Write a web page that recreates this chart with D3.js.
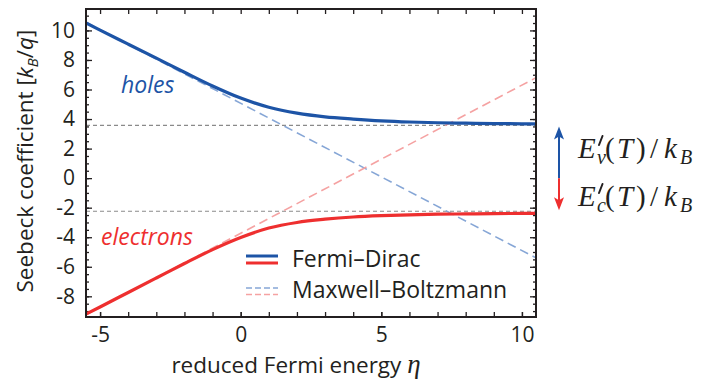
<!DOCTYPE html>
<html>
<head>
<meta charset="utf-8">
<script src="https://cdn.jsdelivr.net/npm/d3@7"></script>
<style>
  body { margin: 0; background: #fff; }
  svg { display: block; }
</style>
</head>
<body>
<div id="chart"></div>
<script>
// ---------------- data ----------------
const eta = [-5.5, -5, -4, -3, -2, -1, 0, 1, 2, 3, 4, 5, 6, 7, 8, 9, 10, 10.5];
const holesFD = [10.5, 10.02, 9.07, 8.12, 7.17, 6.24, 5.42, 4.8, 4.4, 4.15, 4.0, 3.88, 3.8, 3.75, 3.72, 3.69, 3.68, 3.67];
const electronsFD = [-9.2, -8.72, -7.74, -6.76, -5.78, -4.84, -4.02, -3.38, -3.0, -2.78, -2.63, -2.54, -2.48, -2.44, -2.42, -2.4, -2.39, -2.39];
const etaMB = [-5.5, 10.5];
const holesMB = [10.55, -5.4];
const electronsMB = [-9.25, 6.8];
const EvPrime = 3.57;   // asymptote for holes
const EcPrime = -2.24;  // asymptote for electrons
const xTicks = [-5, 0, 5, 10];
const yTicks = [-8, -6, -4, -2, 0, 2, 4, 6, 8, 10];

// ---------------- layout ----------------
const W = 718, H = 385;
const pLeft = 86, pRight = 536, pTop = 9, pBottom = 317;
const blue = '#1d54a6';
const red = '#ee2f2f';
const lightBlue = '#86a6d6';
const pink = '#f5a2a2';
const ink = '#231f20';
const sans = "'Open Sans', sans-serif";
const serif = "'Liberation Serif', serif";

const svg = d3.select('#chart').append('svg')
  .attr('width', W)
  .attr('height', H);

const x = d3.scaleLinear().domain([-5.5, 10.5]).range([pLeft, pRight]);
const y = d3.scaleLinear().domain([-9.4, 11.45]).range([pBottom, pTop]);

svg.append('defs').append('clipPath').attr('id', 'plotClip')
  .append('rect')
  .attr('x', pLeft).attr('y', pTop)
  .attr('width', pRight - pLeft).attr('height', pBottom - pTop);

// ---------------- axes (ticks pointing inward, on all four sides) ----------------
const fmt = d => String(d);
function styleAxis(g) {
  g.select('.domain').remove();
  g.selectAll('line').attr('stroke', ink).attr('stroke-width', 1.3);
  g.selectAll('text').attr('fill', ink).attr('font-family', sans).attr('font-size', 21);
}
const xMinor = d3.range(-5, 11, 1);
const yMinor = d3.range(-9, 11.5, 0.5);

svg.append('g').attr('transform', `translate(0,${pBottom})`)
  .call(d3.axisBottom(x).tickValues(xMinor).tickSize(-5).tickFormat(''))
  .call(styleAxis);
svg.append('g').attr('transform', `translate(0,${pBottom})`)
  .call(d3.axisBottom(x).tickValues(xTicks).tickSize(-5).tickPadding(10).tickFormat(fmt))
  .call(styleAxis);
svg.append('g').attr('transform', `translate(0,${pTop})`)
  .call(d3.axisTop(x).tickValues(xMinor).tickSize(-5).tickFormat(''))
  .call(styleAxis);

svg.append('g').attr('transform', `translate(${pLeft},0)`)
  .call(d3.axisLeft(y).tickValues(yMinor).tickSize(-3).tickFormat(''))
  .call(styleAxis);
svg.append('g').attr('transform', `translate(${pLeft},0)`)
  .call(d3.axisLeft(y).tickValues(yTicks).tickSize(-6).tickPadding(11).tickFormat(fmt))
  .call(styleAxis);
svg.append('g').attr('transform', `translate(${pRight},0)`)
  .call(d3.axisRight(y).tickValues(yMinor).tickSize(-3).tickFormat(''))
  .call(styleAxis);
svg.append('g').attr('transform', `translate(${pRight},0)`)
  .call(d3.axisRight(y).tickValues(yTicks).tickSize(-6).tickFormat(''))
  .call(styleAxis);

// ---------------- plot content ----------------
const plot = svg.append('g').attr('clip-path', 'url(#plotClip)');

// asymptotes
[EvPrime, EcPrime].forEach(v => {
  plot.append('line')
    .attr('x1', pLeft).attr('x2', pRight)
    .attr('y1', y(v)).attr('y2', y(v))
    .attr('stroke', '#8a8a8a')
    .attr('stroke-width', 1.1)
    .attr('stroke-dasharray', '4 3');
});

const line = d3.line()
  .x(d => x(d[0]))
  .y(d => y(d[1]))
  .curve(d3.curveMonotoneX);

// Maxwell-Boltzmann (dashed)
plot.append('path')
  .attr('d', line(d3.zip(etaMB, holesMB)))
  .attr('fill', 'none').attr('stroke', lightBlue)
  .attr('stroke-width', 1.6).attr('stroke-dasharray', '9 5');
plot.append('path')
  .attr('d', line(d3.zip(etaMB, electronsMB)))
  .attr('fill', 'none').attr('stroke', pink)
  .attr('stroke-width', 1.6).attr('stroke-dasharray', '9 5');

// Fermi-Dirac (solid)
plot.append('path')
  .attr('d', line(d3.zip(eta, holesFD)))
  .attr('fill', 'none').attr('stroke', blue).attr('stroke-width', 3.2);
plot.append('path')
  .attr('d', line(d3.zip(eta, electronsFD)))
  .attr('fill', 'none').attr('stroke', red).attr('stroke-width', 3.2);

// frame
svg.append('rect')
  .attr('x', pLeft).attr('y', pTop)
  .attr('width', pRight - pLeft).attr('height', pBottom - pTop)
  .attr('fill', 'none').attr('stroke', ink).attr('stroke-width', 2);

// curve labels
svg.append('text')
  .attr('x', 121).attr('y', 93)
  .attr('font-family', sans).attr('font-style', 'italic').attr('font-size', 23)
  .attr('fill', blue).text('holes');
svg.append('text')
  .attr('x', 101).attr('y', 245)
  .attr('font-family', sans).attr('font-style', 'italic').attr('font-size', 23)
  .attr('fill', red).text('electrons');

// ---------------- legend ----------------
const legend = svg.append('g');
legend.append('line').attr('x1', 246).attr('x2', 278).attr('y1', 256).attr('y2', 256)
  .attr('stroke', blue).attr('stroke-width', 3);
legend.append('line').attr('x1', 246).attr('x2', 278).attr('y1', 263).attr('y2', 263)
  .attr('stroke', red).attr('stroke-width', 3);
legend.append('line').attr('x1', 246).attr('x2', 278).attr('y1', 288).attr('y2', 288)
  .attr('stroke', lightBlue).attr('stroke-width', 1.6).attr('stroke-dasharray', '6 3');
legend.append('line').attr('x1', 246).attr('x2', 278).attr('y1', 294.5).attr('y2', 294.5)
  .attr('stroke', pink).attr('stroke-width', 1.6).attr('stroke-dasharray', '6 3');
legend.append('text').attr('x', 292).attr('y', 267)
  .attr('font-family', sans).attr('font-size', 23).attr('fill', ink).text('Fermi–Dirac');
legend.append('text').attr('x', 292).attr('y', 298)
  .attr('font-family', sans).attr('font-size', 23).attr('fill', ink).text('Maxwell–Boltzmann');

// ---------------- axis titles ----------------
const xt = svg.append('text')
  .attr('x', 296).attr('y', 373)
  .attr('text-anchor', 'middle')
  .attr('font-family', sans).attr('font-size', 22.5).attr('fill', ink);
xt.append('tspan').text('reduced Fermi energy ');
xt.append('tspan').attr('font-family', serif).attr('font-style', 'italic').attr('font-size', 27).text('η');

const yt = svg.append('text')
  .attr('transform', 'translate(33,161) rotate(-90)')
  .attr('text-anchor', 'middle')
  .attr('font-family', sans).attr('font-size', 22.5).attr('fill', ink);
yt.append('tspan').text('Seebeck coefficient [');
yt.append('tspan').attr('font-style', 'italic').text('k');
yt.append('tspan').attr('font-style', 'italic').attr('font-size', 15).attr('dy', 5).text('B');
yt.append('tspan').attr('dy', -5).text('/');
yt.append('tspan').attr('font-style', 'italic').text('q');
yt.append('tspan').text(']');

// ---------------- band-edge arrow on the right ----------------
const ax = 559;
const ann = svg.append('g');
ann.append('line').attr('x1', ax).attr('x2', ax)
  .attr('y1', y(0)).attr('y2', y(EvPrime) + 10)
  .attr('stroke', blue).attr('stroke-width', 2);
ann.append('line').attr('x1', ax).attr('x2', ax)
  .attr('y1', y(0)).attr('y2', y(EcPrime) - 10)
  .attr('stroke', red).attr('stroke-width', 2);
ann.append('path')
  .attr('d', `M${ax},${y(EvPrime) + 1} l-5,13 l5,-3 l5,3 Z`)
  .attr('fill', blue);
ann.append('path')
  .attr('d', `M${ax},${y(EcPrime) - 1} l-5,-13 l5,3 l5,-3 Z`)
  .attr('fill', red);

// E'_v(T)/k_B and E'_c(T)/k_B, laid out piece by piece
function energyLabel(base, sub) {
  const t = ann.append('text')
    .attr('y', base)
    .attr('font-family', serif).attr('font-size', 29).attr('fill', ink);
  t.append('tspan').attr('x', 578).attr('font-style', 'italic').text('E');
  t.append('tspan').attr('x', 597).attr('y', base + 6).attr('font-style', 'italic').attr('font-size', 20).text(sub);
  t.append('tspan').attr('x', 605).attr('y', base).text('(');
  t.append('tspan').attr('x', 617).attr('font-style', 'italic').text('T');
  t.append('tspan').attr('x', 636).text(')');
  t.append('tspan').attr('x', 650).text('/');
  t.append('tspan').attr('x', 664).attr('font-style', 'italic').text('k');
  t.append('tspan').attr('x', 680).attr('y', base + 6).attr('font-style', 'italic').attr('font-size', 20).text('B');
  // prime mark
  ann.append('path')
    .attr('d', `M${602.5},${base - 22} L${599},${base - 13}`)
    .attr('stroke', ink).attr('stroke-width', 2).attr('stroke-linecap', 'round');
}
energyLabel(158, 'v');
energyLabel(206, 'c');
</script>
</body>
</html>
